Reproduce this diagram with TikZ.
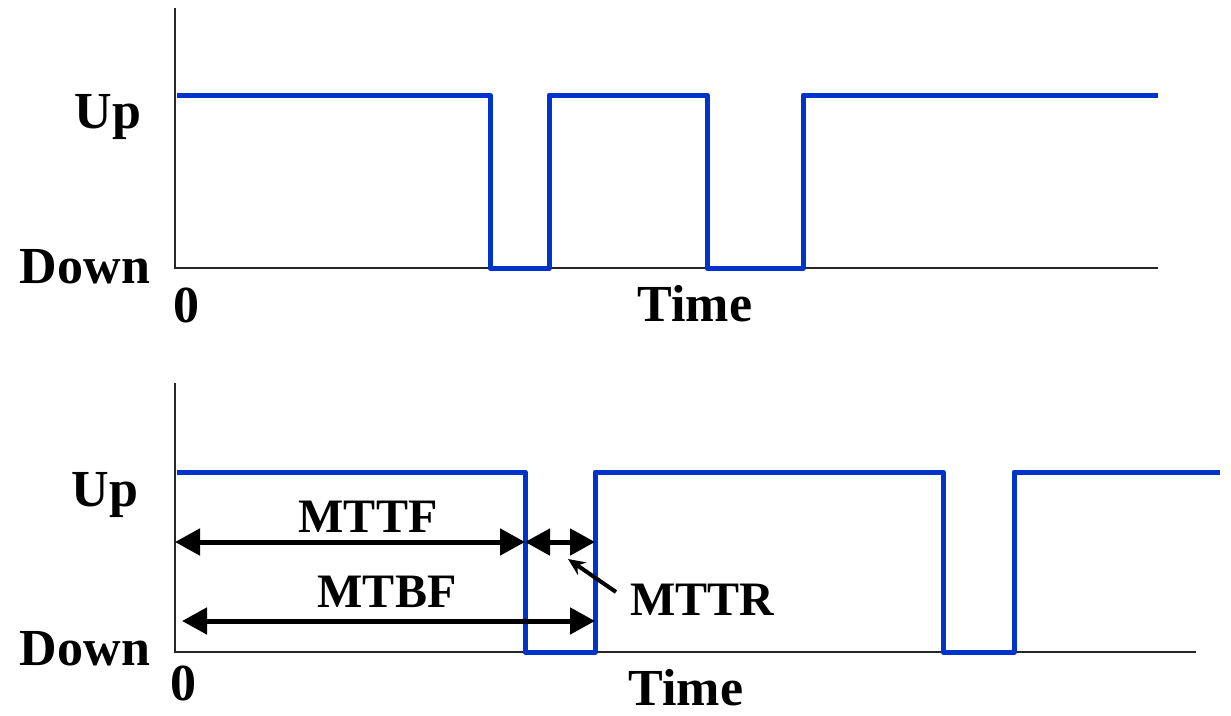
\documentclass[tikz,border=0pt]{standalone}
\usepackage{fontspec}
\setmainfont{Liberation Serif}
\usetikzlibrary{arrows.meta}

\begin{document}
\begin{tikzpicture}[
  x=1pt, y=-1pt,
  lbl/.style={font=\fontsize{48}{48}\selectfont\bfseries, inner sep=0pt},
  axlbl/.style={font=\fontsize{52}{52}\selectfont\bfseries, inner sep=0pt},
  ax/.style={line width=1.8pt, black!85},
  wave/.style={line width=5pt, color=wblue, line join=round},
  span/.style={{Triangle[length=25pt,width=26pt]}-{Triangle[length=25pt,width=26pt]}, line width=5pt},
  ptr/.style={-{Stealth[length=17pt,width=15pt]}, line width=4pt}
]
  \definecolor{wblue}{RGB}{0,51,204}
  \useasboundingbox (0,0) rectangle (1231,715);
  % top chart
  \coordinate (o1) at (175,268);
  \draw[ax] (175,8) -- (o1) -- (1158,268);
  \draw[wave] (177,95) -| (490,268) -| (549,95) -| (707,268) -| (803,95) -- (1158,95);
  \node[axlbl] (up1) at (108,117) {Up};
  \node[axlbl] (down1) at (85,267) {Down};
  \node[axlbl] (zero1) at (186,305) {0};
  \node[axlbl] (time1) at (695,304) {Time};
  % bottom chart
  \coordinate (o2) at (175,652);
  \draw[ax] (175,383) -- (o2) -- (1196,652);
  \coordinate (fail) at (525,472);
  \coordinate (fix) at (595,652);
  \draw[wave] (177,472) -| (fail) |- (fix) |- (943,472) |- (1014,652) |- (1220,472);
  \node[axlbl] (up2) at (105,495) {Up};
  \node[axlbl] (down2) at (85,649) {Down};
  \node[axlbl] (zero2) at (183,683) {0};
  \node[axlbl] (time2) at (686,688) {Time};
  % spans
  \coordinate (a1) at (175,542);
  \coordinate (a2) at (fail |- a1);
  \coordinate (a3) at (fix |- a1);
  \coordinate (b1) at (182,621);
  \coordinate (b2) at (fix |- b1);
  \draw[span] (a1) -- (a2);
  \draw[span] (a2) -- (a3);
  \draw[span] (b1) -- (b2);
  \node[lbl] (mttf) at (368,517) {MTTF};
  \node[lbl] (mtbf) at (387,592) {MTBF};
  \node[lbl] (mttr) at (702,600) {MTTR};
  \coordinate (p1) at (616,592);
  \coordinate (p2) at (568,559);
  \draw[ptr] (p1) -- (p2);
\end{tikzpicture}
\end{document}
